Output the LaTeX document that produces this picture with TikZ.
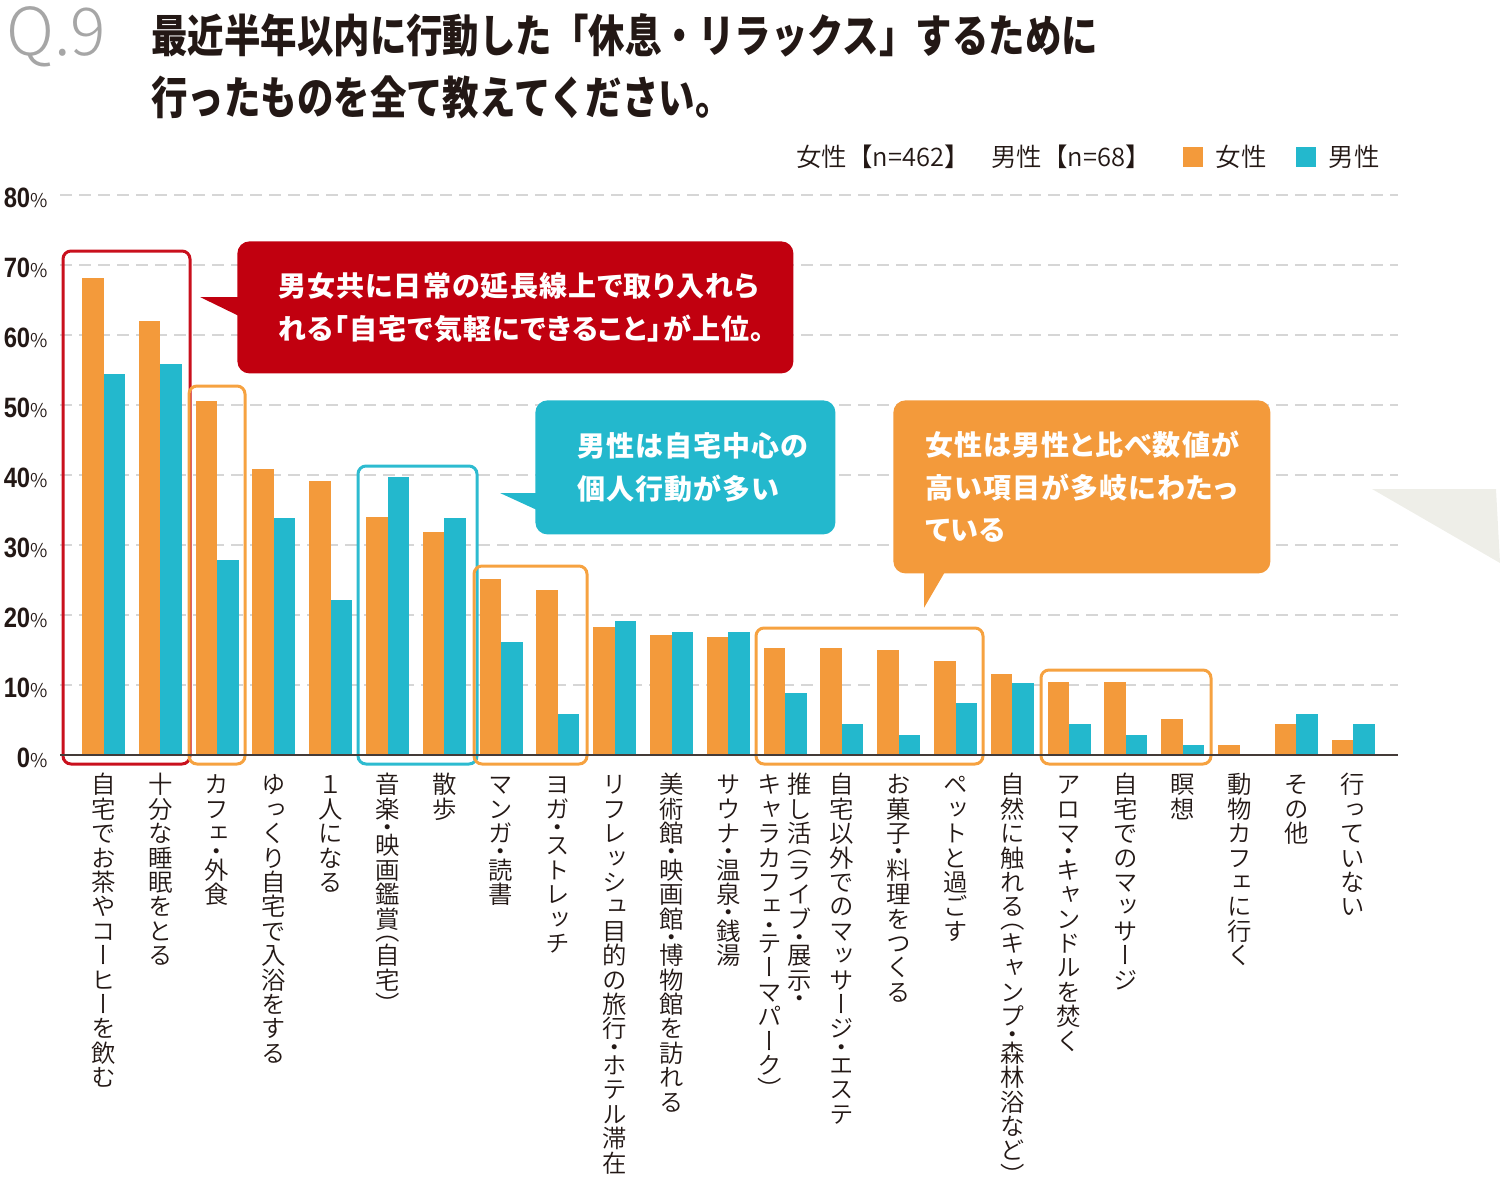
\documentclass[tikz,border=0pt]{standalone}
\usepackage{fontspec}
\setmainfont{Noto Sans CJK JP}
\newfontfamily\jp{Noto Sans CJK JP}
\newfontfamily\jphead{Noto Sans CJK JP}[FakeStretch=0.81]
\newfontfamily\jpnote{Noto Sans CJK JP}[RawFeature=+palt,LetterSpace=4]
\IfFontExistsTF{Noto Sans CJK JP DemiLight}
  {\newfontfamily\jplite{Noto Sans CJK JP DemiLight}
   \newfontfamily\vjp{Noto Sans CJK JP DemiLight}[RawFeature=+vert]}
  {\newfontfamily\jplite{Noto Sans CJK JP}
   \newfontfamily\vjp{Noto Sans CJK JP}[RawFeature=+vert]}
\newfontfamily\numfont{Liberation Sans}[FakeStretch=0.85]
\IfFontExistsTF{Noto Sans CJK JP Light}
  {\newfontfamily\qfont{Noto Sans CJK JP Light}}
  {\newfontfamily\qfont{Noto Sans CJK JP}}
\usetikzlibrary{calc,positioning}
\definecolor{ink}{HTML}{231815}
\definecolor{barF}{HTML}{F39A3B}
\definecolor{barM}{HTML}{23B8CD}
\definecolor{calRed}{HTML}{C1000F}
\definecolor{hlRed}{HTML}{C9101D}
\definecolor{hlOrange}{HTML}{F6A240}
\definecolor{hlBlue}{HTML}{2DBBD0}
\definecolor{gridgray}{HTML}{D6D6D6}
\definecolor{trigray}{HTML}{EEEEE8}
\newcommand\pct[1]{{\numfont\bfseries\fontsize{14}{14}\selectfont #1}{\jplite\fontsize{9.5}{9.5}\selectfont\%}}
% vertical (tategaki) columns: one glyph per row, half rows for ・（）
\def\vcell#1{%
  \ifx#1（\vskip-.5em\fi
  \ifx#1・\vskip-.25em\fi
  \hbox to 1em{\hss#1\hss\vrule height .88em depth .12em width 0pt}%
  \ifx#1）\vskip-.5em\fi
  \ifx#1・\vskip-.25em\fi}
\def\vstackA#1{\ifx#1\relax\else\vcell{#1}\expandafter\vstackA\fi}
\newcommand\vstack[1]{\vtop{\baselineskip=1em\lineskiplimit=-100pt\lineskip=0pt\vstackA#1\relax}}
\def\vcolsplit#1|#2|#3\relax{\ifx\relax#2\relax\vstack{#1}\else\vstack{#2}\hskip2.8pt\vstack{#1}\fi}
\def\vcol#1{\vcolsplit#1||\relax}

\begin{document}
\begin{tikzpicture}[x=0.5pt,y=-0.5pt,
    qno/.style={anchor=west,inner sep=0,text=black!35,font={\qfont\fontsize{33}{33}\selectfont}},
    heading/.style={anchor=west,inner sep=0,align=left,text=ink,
        font={\jphead\bfseries\fontsize{22.5}{31}\selectfont}},
    legend/.style={anchor=west,inner sep=0,text=ink,font={\jplite\fontsize{12.75}{14}\selectfont}},
    swatch/.style={minimum size=10pt,inner sep=0},
    ylab/.style={anchor=east,inner sep=0,text=ink},
    grid/.style={gridgray,line width=1pt,dash pattern=on 6pt off 3.5pt},
    axis/.style={ink!85,line width=1pt},
    catlab/.style={anchor=north,inner sep=0,text=ink,
        font={\vjp\fontsize{12.2}{12.2}\selectfont}},
    hl/.style={line width=1.5pt,rounded corners=4pt},
    callout/.style={anchor=north west,rounded corners=6pt,inner ysep=0,align=left,
        text=white,font={\jpnote\bfseries\fontsize{14}{21.25}\selectfont}}]
\useasboundingbox (0,0) rectangle (1500,1179);

\node[qno] (q) at (6,37) {Q.9};
\node[heading] (ttl) at (151,66) {最近半年以内に行動した「休息・リラックス」するために\\行ったものを全て教えてください。};

\node[legend] (nF) at (796,157) {女性【n=462】};
\node[legend] (nM) at (991,157) {男性【n=68】};
\node[swatch,fill=barF] (keyF) at (1193,157) {};
\node[legend,right=6pt of keyF] (keyFt) {女性};
\node[swatch,fill=barM] (keyM) at (1306,157) {};
\node[legend,right=6pt of keyM] (keyMt) {男性};

\foreach \p in {10,20,...,80}
    \draw[grid] (60,{755-7*\p}) -- (1398,{755-7*\p});
\foreach \p in {0,10,...,80}
    \node[ylab] (ylab\p) at (48,{758-7*\p}) {\pct{\p}};

\fill[trigray] (1372,489) -- (1496,489) -- (1500,563) -- cycle;

\node[callout,fill=calRed,inner xsep=20.5pt,text width=237pt,minimum height=66pt] (noteRed) at (237,241)
    {男女共に日常の延長線上で取り入れら\\れる「自宅で気軽にできること」が上位。};
\fill[calRed] ($(noteRed.north west)+(2,56)$) -- ++(-39,0) -- ($(noteRed.north west)+(2,75)$) -- cycle;
\node[callout,fill=barM,inner xsep=21pt,text width=108pt,minimum height=67pt] (noteBlue) at (535,400)
    {男性は自宅中心の\\個人行動が多い};
\fill[barM] ($(noteBlue.north west)+(2,93)$) -- ++(-37,0) -- ($(noteBlue.north west)+(2,110)$) -- cycle;
\node[callout,fill=barF,inner xsep=16pt,text width=156.5pt,minimum height=86.5pt] (noteOrange) at (893,400)
    {女性は男性と比べ数値が\\高い項目が多岐にわたっ\\ている};
\fill[barF] ($(noteOrange.south west)+(31,-2)$) -- ++(21,0) -- ($(noteOrange.south west)+(31,34)$) -- cycle;

\foreach \f/\m/\lab [count=\i from 0] in {
    68.2/54.4/自宅でお茶やコーヒーを飲む,
    62.0/55.9/十分な睡眠をとる,
    50.6/27.9/カフェ・外食,
    40.9/33.8/ゆっくり自宅で入浴をする,
    39.1/22.1/１人になる,
    34.0/39.7/音楽・映画鑑賞（自宅）,
    31.9/33.8/散歩,
    25.1/16.2/マンガ・読書,
    23.6/5.9/ヨガ・ストレッチ,
    18.3/19.1/リフレッシュ目的の旅行・ホテル滞在,
    17.1/17.6/美術館・映画館・博物館を訪れる,
    16.9/17.6/サウナ・温泉・銭湯,
    15.3/8.8/推し活（ライブ・展示・|キャラカフェ・テーマパーク）,
    15.3/4.4/自宅以外でのマッサージ・エステ,
    15.0/2.9/お菓子・料理をつくる,
    13.4/7.4/ペットと過ごす,
    11.6/10.3/自然に触れる（キャンプ・森林浴など）,
    10.4/4.4/アロマ・キャンドルを焚く,
    10.4/2.9/自宅でのマッサージ,
    5.1/1.5/瞑想,
    1.5/0/動物カフェに行く,
    4.5/5.9/その他,
    2.2/4.4/行っていない}{
    \pgfmathsetmacro\bx{82+56.8*\i}
    \fill[barF] (\bx,755) rectangle ++(21.5,{-7*\f});
    \fill[barM] (\bx+21.5,755) rectangle ++(21.5,{-7*\m});
    \node[catlab] (cat\i) at (\bx+21.5,772) {\expandafter\vcol\expandafter{\lab}};
}

\draw[hl,hlRed] (63,251) rectangle (190,764);
\draw[hl,hlOrange] (189,386) rectangle (245,764);
\draw[hl,hlBlue] (358,466) rectangle (477,764);
\draw[hl,hlOrange] (474,566) rectangle (587,764);
\draw[hl,hlOrange] (756,628) rectangle (983,764);
\draw[hl,hlOrange] (1041,670) rectangle (1211,764);

\draw[axis] (60,755) -- (1398,755);
\end{tikzpicture}
\end{document}
